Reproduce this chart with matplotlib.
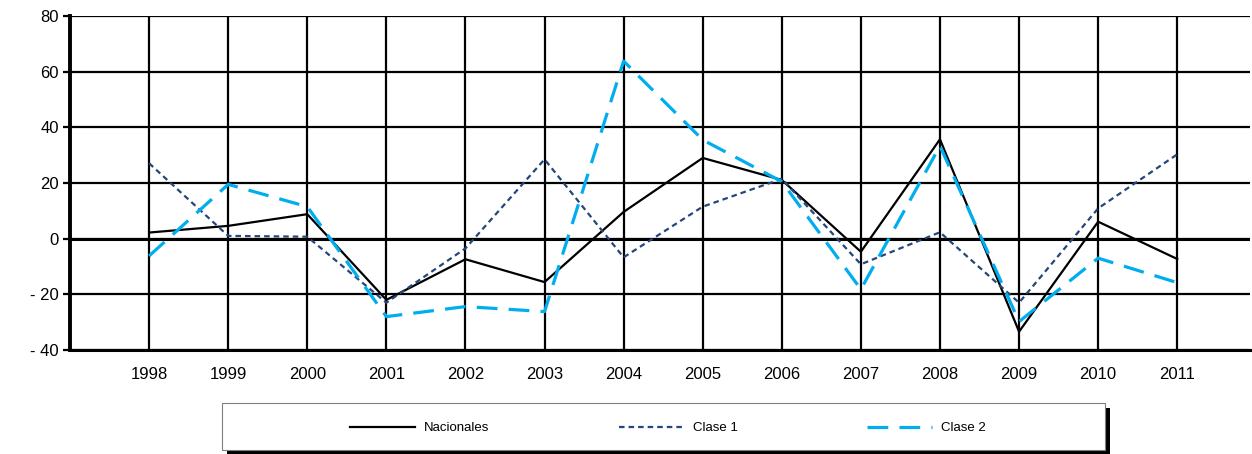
import matplotlib
matplotlib.use("Agg")
import matplotlib.pyplot as plt
from matplotlib.patches import Rectangle
from matplotlib.ticker import FuncFormatter

plt.rcParams['font.family'] = ['Liberation Sans', 'DejaVu Sans']

years = [1998, 1999, 2000, 2001, 2002, 2003, 2004, 2005, 2006, 2007, 2008, 2009, 2010, 2011]
nacionales = [2.2, 4.6, 8.8, -22.0, -7.4, -15.6, 9.6, 29.0, 21.1, -4.7, 35.7, -33.4, 6.1, -7.3]
clase1 = [27.1, 1.0, 0.7, -23.0, -3.5, 28.5, -6.7, 11.5, 21.5, -9.2, 2.3, -23.0, 10.9, 30.3]
clase2 = [-6.2, 19.5, 11.5, -28.0, -24.4, -26.2, 63.8, 35.5, 20.5, -18.2, 33.3, -29.8, -7.0, -15.8]

W, H = 1252, 454
fig = plt.figure(figsize=(W/100, H/100), dpi=100)
ax = fig.add_axes([70/W, 1-350/H, 1180/W, 334/H])

ax.set_xlim(1997, 2011.92)
ax.set_ylim(-40, 80)
ax.set_yticks(range(-40, 81, 20))
ax.set_xticks(years)
ax.grid(True, color='black', linewidth=1.6)
ax.axhline(0, color='black', linewidth=2.2, zorder=1)
ax.set_axisbelow(True)

ax.plot(years, nacionales, color='black', linewidth=1.6, label='Nacionales', zorder=3)
ax.plot(years, clase1, color='#24467A', linewidth=1.6, dashes=(2.5, 1.8), label='Clase 1', zorder=3)
ax.plot(years, clase2, color='#00AEEF', linewidth=2.3, dashes=(6.5, 3.5), label='Clase 2', zorder=3)

for s in ['top', 'right']:
    ax.spines[s].set_visible(False)
ax.spines['left'].set_linewidth(2.8)
ax.spines['bottom'].set_linewidth(2.2)

ax.yaxis.set_major_formatter(FuncFormatter(lambda v, p: f"- {abs(int(v))}" if v < 0 else f"{int(v)}"))
ax.tick_params(axis='y', length=5, width=1.6, labelsize=12, pad=3)
ax.tick_params(axis='x', length=0, labelsize=12, pad=12)

# legend box with black shadow
fig.patches.append(Rectangle((227/W, 1-455/H), 883/W, 47/H, transform=fig.transFigure,
                             facecolor='black', edgecolor='none', zorder=0))
fig.patches.append(Rectangle((222/W, 1-450/H), 883/W, 47/H, transform=fig.transFigure,
                             facecolor='white', edgecolor='#808080', linewidth=0.8, zorder=1))

leg = fig.legend(loc='center', bbox_to_anchor=(668/W, 1-428/H), ncol=3, frameon=False,
                 fontsize=9.5, handlelength=4.9, handletextpad=0.7, columnspacing=9.8)

fig.savefig('out.png', dpi=100)
